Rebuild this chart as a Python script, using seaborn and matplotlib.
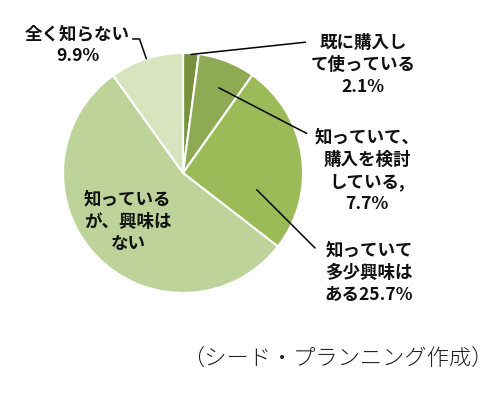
import matplotlib
matplotlib.use('Agg')
import matplotlib.pyplot as plt
import numpy as np
import seaborn as sns

# survey answers, clockwise from 12 o'clock
labels = ['既に購入し\nて使っている\n2.1%',
          '知っていて、\n購入を検討\nしている,\n7.7%',
          '知っていて\n多少興味は\nある25.7%',
          '知っている\nが、興味は\nない',
          '全く知らない\n9.9%']
shares = [2.1, 7.7, 25.7, 54.6, 9.9]
colors = ['#76923c', '#8eaa52', '#9bbb59', '#bdd39a', '#d7e4bd']
source = '（シード・プランニング作成）'


def plot_pie():
    sns.set_theme(style='white')
    plt.rcParams['font.family'] = ['Noto Sans CJK JP', 'DejaVu Sans']

    fig = plt.figure(figsize=(4.97, 3.97), dpi=100)
    ax = fig.add_axes([0.1268, 0.262, 0.483, 0.6045])

    wedges, _ = ax.pie(shares, colors=colors, startangle=90, counterclock=False,
                       radius=1, wedgeprops=dict(edgecolor='white', linewidth=1.5))
    ax.set_xlim(-1, 1)
    ax.set_ylim(-1, 1)
    ax.set_aspect('equal')
    ax.axis('off')

    # (fraction along the wedge, radius) where each leader line starts
    anchors = [(0.5, 0.99), (0.45, 0.77), (0.27, 0.63), None, (0.5, 1.0)]
    line_ends = [(1.02, 1.09), (1.03, 0.33), (1.10, -0.625), None, (-0.42, 1.117)]
    text_pos = [(1.50, 0.90), (1.535, 0.015), (1.55, -0.83), (-0.46, -0.41), (-0.88, 1.065)]

    for i, w in enumerate(wedges):
        ax.text(*text_pos[i], labels[i], ha='center', va='center', fontsize=12.6,
                fontweight='bold', linespacing=1.3, color='#111111')
        if anchors[i] is None:
            continue
        frac, r = anchors[i]
        ang = np.deg2rad(w.theta1 + frac * (w.theta2 - w.theta1))
        xy = (r * np.cos(ang), r * np.sin(ang))
        conn = 'arc3' if i != 4 else 'angle,angleA=0,angleB=109,rad=0'
        ax.annotate('', xy=xy, xytext=line_ends[i], annotation_clip=False,
                    arrowprops=dict(arrowstyle='-', color='black', lw=1.1,
                                    shrinkA=0, shrinkB=0, connectionstyle=conn))

    fig.text(0.679, 0.093, source, ha='center', va='center', fontsize=16,
             fontweight='light', color='#222222')

    fig.savefig('out.png', dpi=100)


plot_pie()
